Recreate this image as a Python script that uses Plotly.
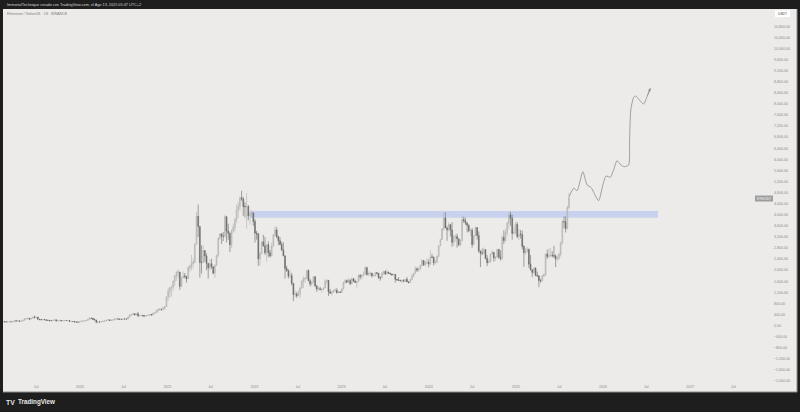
import plotly.graph_objects as go
import pandas as pd

W, H = 800, 412
ML, MR, MT, MB = 3, 27, 9, 29

# ---------------- weekly ETH/USDT candles (week start 2019-02-11) ----------------
first_open = 120
close_2019 = [143,136,131,133,138,137,141, 176,162,172,158,163, 195,234,250,265, 232,268,306,292,
              307,228,220,205,222, 208,195,190,178, 178,197,210,170,171, 190,172,181,185,
              183,185,150,151, 147,132,128,125,144]
high_2019 = [146,165,140,137,139,142,143, 185,183,176,178,166, 198,275,270,285, 260,275,315,364,
             320,318,240,230,230, 236,212,200,195, 185,205,225,212,185, 200,192,196,195,
             197,190,186,159, 155,150,135,135,145]
low_2019 = [118,133,127,125,130,133,133, 140,155,158,148,152, 160,190,230,235, 220,230,265,260,
            275,220,190,200,205, 205,177,180,165, 165,175,195,153,165, 168,165,155,175,
            180,175,140,137, 144,130,116,124,125]

close_2020 = [166,168,168,189, 223,265,262,217, 200,124,132,131,143, 158,170,194,210, 188,200,208,240,
              244,234,229,225,240, 239,236,310,387, 395,432,387,428,352, 365,370,354,352,
              365,368,405,383, 452,461,550,575,590, 585,638,685,1040]
high_2020 = [175,180,175,190, 225,290,288,280, 253,205,140,140,150, 175,187,198,227, 215,210,215,245,
             252,250,240,240,242, 248,240,312,415, 400,445,440,430,488, 378,395,370,365,
             375,395,420,415, 460,480,560,620,635, 600,675,690,1045]
low_2020 = [140,160,155,165, 185,220,250,210, 200,86,110,120,125, 140,150,165,190, 180,158,195,195,
            227,222,220,220,222, 235,228,232,305, 355,380,370,380,310, 330,360,309,335,
            330,364,367,370, 372,442,455,480,540, 540,578,550,680]

close_2021 = [1230,1372,1392,1610, 1806,1930,1935,1418, 1725,1793,1780,1690,2080, 2140,2240,2300,2950,
              3945,3580,2280,2270,2710, 2510,2250,2085,2230, 2120,1895,2190,2540, 3160,3310,3225,3225,3930,
              3410,3330,2920,3415, 3550,3830,4170,4300, 4610,4570,4300,4290,4300, 3960,4050,4060,3760]
high_2021 = [1350,1375,1440,1630, 1830,1960,2040,1935, 1750,1950,1900,1760,2150, 2200,2550,2430,2950,
             4100,4372,3560,2900,2890, 2650,2600,2200,2400, 2410,2130,2200,2550, 3180,3330,3330,3380,4000,
             3950,3680,3360,3480, 3680,3880,4380,4460, 4660,4868,4650,4450,4780, 4350,4130,4170,4100]
low_2021 = [890,1000,1050,1260, 1440,1620,1720,1290, 1400,1720,1700,1550,1680, 1950,2000,2050,2250,
            2920,3200,1730,1880,2330, 2300,2000,1700,2000, 2050,1850,1720,2150, 2460,3090,2950,3050,3180,
            3000,3100,2650,2800, 3350,3400,3700,3890, 4150,4500,3960,3900,3500, 3800,3640,3900,3600]

close_2022 = [3340,3305,2410,2600,3020, 2880,2630,2920,2630, 2520,2860,3280,3450, 3210,3060,2930,2730,
              2520,2060,1975,1790,1800, 1525,1125,1140,1075, 1160,1360,1600,1680, 1710,1985,1620,1500,1575,
              1760,1440,1320,1330, 1300,1310,1360,1600,1630, 1220,1165,1220,1275, 1275,1190,1220,1195]
high_2022 = [3840,3420,3350,2650,3050, 3280,3200,2930,3040, 2730,3000,3300,3580, 3550,3250,3190,3030,
             3000,2520,2160,2040,2020, 1900,1530,1270,1220, 1280,1380,1650,1780, 1740,2000,2030,1700,1600,
             1780,1790,1400,1400, 1400,1340,1360,1660,1680, 1650,1320,1230,1300, 1350,1350,1230,1230]
low_2022 = [3000,3100,2160,2160,2590, 2850,2550,2300,2480, 2450,2500,2850,3200, 3150,2900,2900,2700,
            2500,1700,1950,1700,1720, 1450,880,1020,1000, 1070,1000,1330,1360, 1550,1680,1600,1420,1420,
            1520,1390,1220,1270, 1285,1190,1270,1350,1500, 1070,1150,1080,1180, 1230,1150,1180,1190]

close_2023 = [1320,1550,1630,1565,1630, 1515,1690,1605,1560, 1590,1810,1770,1820, 1860,2090,1840,1870,
              1895,1800,1805,1910,1890, 1740,1720,1890,1955, 1865,1935,1890,1860,1830, 1850,1670,1645,1630,
              1615,1625,1595,1670, 1580,1555,1670,1780,1890, 2050,2010,2065,2165, 2350,2195,2265,2280]
high_2023 = [1350,1600,1680,1660,1720, 1680,1740,1720,1660, 1600,1850,1860,1830, 1940,2140,2120,1960,
             1930,1900,1850,1930,1930, 1890,1770,1930,1960, 1990,2030,1940,1890,1870, 1870,1860,1690,1750,
             1660,1650,1680,1680, 1750,1590,1680,1860,1900, 2140,2100,2100,2200, 2400,2330,2340,2440]
low_2023 = [1190,1310,1500,1530,1560, 1460,1500,1580,1540, 1370,1590,1670,1680, 1780,1850,1800,1800,
            1780,1740,1780,1770,1840, 1680,1620,1720,1830, 1830,1850,1870,1840,1800, 1820,1550,1620,1620,
            1600,1530,1580,1570, 1570,1520,1540,1640,1770, 1870,1940,1930,2010, 2150,2150,2140,2230]

close_2024 = [2220,2475,2470,2265,2290, 2500,2880,3110,3490, 3880,3525,3450,3645, 3450,3005,3200,3220,3135,
              2915,3070,3825,3780, 3705,3620,3420,3440, 2930,3245,3535,3250,2690, 2610,2610,2740,2425,
              2270,2310,2580,2650,2440, 2470,2745,2475,2425, 3185,3070,3360,3700, 3995,3870,3325,3360,3650]
high_2024 = [2390,2720,2590,2490,2390, 2540,2880,3130,3520, 4090,4090,3590,3720, 3640,3730,3280,3290,3320,
             3130,3110,3980,3930, 3890,3720,3650,3500, 3520,3250,3560,3560,3400, 2700,2780,2820,2760,
             2550,2420,2600,2720,2650, 2500,2770,2770,2720, 3250,3440,3500,3740, 4090,4107,4000,3550,3750]
low_2024 = [2100,2200,2450,2170,2210, 2260,2480,2880,3090, 3430,3520,3060,3400, 3210,2850,2870,3050,2815,
            2870,2860,3060,3700, 3630,3360,3370,3230, 2810,2900,3240,3100,2630, 2110,2540,2570,2390,
            2150,2250,2280,2550,2310, 2340,2450,2400,2350, 2360,2950,3020,3240, 3500,3600,3100,3300,3300]

close_2025 = [3215,3300,3295,2860, 2630,2690,2750,2215, 2020,1920,2075,1820,1800, 1625,1620,1795,1840,
              2585,2490,2530,2530, 2525,2510,2400,2435,2570, 2970,3755,3745,3500, 4265,4600]
high_2025 = [3740,3480,3450,3430, 2900,2800,2850,2780, 2550,2020,2100,2100,1950, 1690,1690,1830,1870,
             2600,2740,2790,2790, 2680,2880,2570,2530,2640, 3040,3800,3940,3940, 4330,4790]
low_2025 = [3150,3080,3140,2750, 2120,2550,2620,2080, 1990,1750,1860,1780,1750, 1385,1540,1580,1750,
            1790,2410,2440,2480, 2460,2440,2110,2330,2370, 2490,2940,3510,3360, 3480,4200]

# ---------------- drawing: projected path + resistance band ----------------
proj_dates = ["2025-08-11", "2025-08-31", "2025-09-14", "2025-10-08", "2025-10-26", "2025-11-11",
              "2025-12-13", "2025-12-31", "2026-01-13", "2026-01-31", "2026-02-14", "2026-02-28",
              "2026-03-17", "2026-03-31", "2026-04-18", "2026-04-22", "2026-04-27", "2026-05-09",
              "2026-05-18", "2026-06-02", "2026-06-20", "2026-07-04", "2026-07-18"]
proj_prices = [4650, 4955, 4868, 5554, 5074, 4991, 4507, 5074, 5399, 5352, 5615, 5951,
               5796, 5734, 5796, 6698, 7781, 8239, 8286, 8142, 7997, 8261, 8564]

band_start, band_end = "2021-12-14", "2026-08-19"
band_low, band_high = 3890, 4140

# ---------------- axes ----------------
x_tick_dates = ["2019-07-01", "2020-01-01", "2020-07-01", "2021-01-01", "2021-07-01", "2022-01-01",
                "2022-07-01", "2023-01-01", "2023-07-01", "2024-01-01", "2024-07-01", "2025-01-01",
                "2025-07-01", "2026-01-01", "2026-07-01", "2027-01-01", "2027-07-01"]
x_tick_labels = ["Jul", "2020", "Jul", "2021", "Jul", "2022", "Jul", "2023", "Jul", "2024", "Jul",
                 "2025", "Jul", "2026", "Jul", "2027", "Jul"]
y_tick_values = list(range(-2000, 11200, 400))
x_range = ["2019-02-12", "2027-12-14"]
y_range = [-2071, 11425]

closes = close_2019 + close_2020 + close_2021 + close_2022 + close_2023 + close_2024 + close_2025
highs = high_2019 + high_2020 + high_2021 + high_2022 + high_2023 + high_2024 + high_2025
lows = low_2019 + low_2020 + low_2021 + low_2022 + low_2023 + low_2024 + low_2025
opens = [first_open] + closes[:-1]
highs = [max(h, o, c) for h, o, c in zip(highs, opens, closes)]
lows = [min(l, o, c) for l, o, c in zip(lows, opens, closes)]
dates = pd.date_range("2019-02-11", periods=len(closes), freq="7D")

PW = W - ML - MR
PH = H - MT - MB


def px(x):
    return (x - ML) / PW


def py(y):
    return 1 - (y - MT) / PH


BG = "#ecebe9"
DARK = "#1e1e1e"
FONT = "Liberation Sans"

fig = go.Figure()
fig.add_trace(go.Candlestick(
    x=dates, open=opens, high=highs, low=lows, close=closes,
    increasing=dict(line=dict(color="#b0b0b0", width=0.6), fillcolor="#c8c8c8"),
    decreasing=dict(line=dict(color="#666666", width=0.6), fillcolor="#666666"),
    whiskerwidth=0, showlegend=False, hoverinfo="skip",
))
fig.add_trace(go.Scatter(
    x=proj_dates, y=proj_prices, mode="lines",
    line=dict(color="#8c8c8c", width=0.8, shape="spline", smoothing=0.6),
    showlegend=False, hoverinfo="skip",
))

shapes = [
    dict(type="rect", xref="paper", yref="paper", x0=px(3), x1=px(797), y0=py(392), y1=py(9),
         fillcolor=BG, line=dict(width=0), layer="below"),
    dict(type="rect", xref="x", yref="y", x0=band_start, x1=band_end, y0=band_low, y1=band_high,
         fillcolor="#c8d2ef", line=dict(width=0), layer="below"),
    dict(type="line", xref="paper", yref="paper", x0=px(3), x1=px(797), y0=py(392), y1=py(392),
         line=dict(color="#8e8e8e", width=1)),
    dict(type="line", xref="paper", yref="paper", x0=px(797), x1=px(797), y0=py(392), y1=py(9),
         line=dict(color="#8e8e8e", width=1)),
    dict(type="rect", xref="paper", yref="paper", x0=px(775), x1=px(790), y0=py(17), y1=py(10.5),
         fillcolor="#ffffff", line=dict(width=0)),
    dict(type="rect", xref="paper", yref="paper", x0=px(755), x1=px(773), y0=py(201.5), y1=py(195.5),
         fillcolor="#9d9d9d", line=dict(width=0)),
]

annotations = [
    dict(xref="paper", yref="paper", x=px(5), y=py(4.5), xanchor="left", yanchor="middle",
         text="ImmortalTechnique creado con TradingView.com, el Ago 13, 2025 05:47 UTC+2",
         showarrow=False, font=dict(family=FONT, size=3.8, color="#d4d4d4")),
    dict(xref="paper", yref="paper", x=px(5), y=py(13.5), xanchor="left", yanchor="middle",
         text="Ethereum / TetherUS · 1S · BINANCE",
         showarrow=False, font=dict(family=FONT, size=3.6, color="#7a7a7a")),
    dict(xref="paper", yref="paper", x=px(782.5), y=py(13.8), xanchor="center", yanchor="middle",
         text="USDT", showarrow=False, font=dict(family=FONT, size=3.3, color="#333333")),
    dict(xref="paper", yref="paper", x=px(764), y=py(198.5), xanchor="center", yanchor="middle",
         text="ETHUSDT", showarrow=False, font=dict(family=FONT, size=3.0, color="#f2f2f2")),
    dict(xref="paper", yref="paper", x=px(4), y=py(402), xanchor="left", yanchor="middle",
         text="<b>TV</b>", showarrow=False, font=dict(family=FONT, size=6.8, color="#e8e8e8")),
    dict(xref="paper", yref="paper", x=px(15.5), y=py(402), xanchor="left", yanchor="middle",
         text="<b>TradingView</b>", showarrow=False, font=dict(family=FONT, size=6.3, color="#e8e8e8")),
    dict(xref="x", yref="y", axref="x", ayref="y",
         x=proj_dates[-1], y=proj_prices[-1], ax=proj_dates[-2], ay=proj_prices[-2],
         text="", showarrow=True, arrowhead=2, arrowsize=0.7, arrowwidth=0.8, arrowcolor="#8c8c8c"),
]

fig.update_layout(
    width=W, height=H,
    margin=dict(l=ML, r=MR, t=MT, b=MB),
    paper_bgcolor=DARK, plot_bgcolor=BG,
    shapes=shapes, annotations=annotations,
    font=dict(family=FONT),
    xaxis=dict(type="date", range=x_range, tickvals=x_tick_dates, ticktext=x_tick_labels,
               showgrid=False, zeroline=False, showline=False, ticks="", automargin=False,
               rangeslider=dict(visible=False),
               tickfont=dict(family=FONT, size=3.6, color="#8a8a8a")),
    yaxis=dict(side="right", range=y_range, tickvals=y_tick_values, tickformat=",.2f",
               showgrid=False, zeroline=False, showline=False, ticks="", automargin=False,
               tickfont=dict(family=FONT, size=3.6, color="#8a8a8a")),
)

fig.write_html("out.html", config={"displayModeBar": False},
               post_script="document.body.style.margin='0';document.body.style.overflow='hidden';")
